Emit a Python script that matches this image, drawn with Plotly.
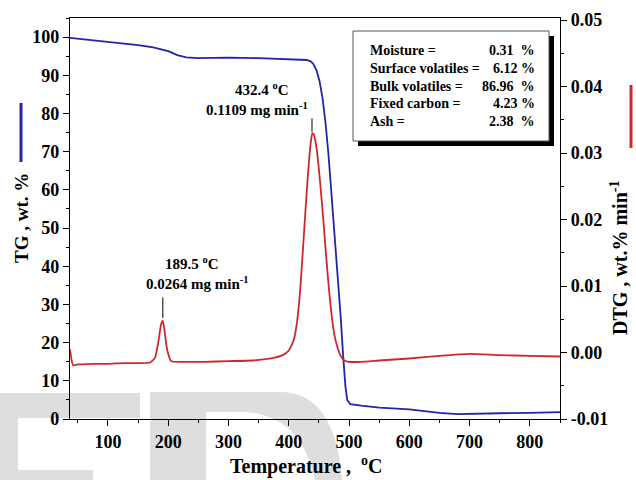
import plotly.graph_objects as go

# ---------------- data ----------------
temp_tg = [37, 50, 75, 100, 125, 150, 175, 200, 215, 230, 250, 300, 350, 400, 420, 430, 437,
           441, 446, 451, 456, 461, 466, 471, 476, 481, 486, 490, 494, 497, 502, 520, 550, 600,
           650, 680, 700, 750, 800, 850]
tg = [99.8, 99.6, 99.2, 98.8, 98.4, 97.9, 97.3, 96.3, 95.3, 94.7, 94.5, 94.6, 94.5, 94.3,
      94.2, 94.0, 93.6, 92.9, 91.3, 88.5, 84.0, 77.5, 69.0, 59.0, 49.0, 38.5, 27.0, 17.0,
      8.5, 5.0, 3.9, 3.5, 3.0, 2.5, 1.6, 1.3, 1.4, 1.5, 1.6, 1.8]

temp_dtg = [37, 42, 50, 75, 100, 125, 150, 170, 178, 184, 188, 191, 194, 198, 205, 230, 260,
            300, 340, 370, 390, 400, 408, 414, 419, 424, 428, 432, 436, 439, 442, 446, 450,
            455, 460, 465, 470, 475, 480, 486, 492, 500, 520, 550, 600, 650, 700, 750, 800, 850]
dtg = [0.0005, -0.0019, -0.0018, -0.0017, -0.0017, -0.0016, -0.0016, -0.0015, -0.0008,
       0.0018, 0.0042, 0.0048, 0.0032, 0.0005, -0.0013, -0.0014, -0.0014, -0.0013, -0.0012,
       -0.0009, -0.0004, 0.0003, 0.0018, 0.0048, 0.0095, 0.0162, 0.0218, 0.0270, 0.0312,
       0.0330, 0.0327, 0.0308, 0.0275, 0.0225, 0.0168, 0.0112, 0.0065, 0.0030, 0.0010,
       -0.0005, -0.0012, -0.0014, -0.0014, -0.0012, -0.0009, -0.0005, -0.0002, -0.0004,
       -0.0005, -0.0006]

x_ticks = [100, 200, 300, 400, 500, 600, 700, 800]
tg_ticks = [0, 10, 20, 30, 40, 50, 60, 70, 80, 90, 100]
dtg_ticks = [-0.01, 0.00, 0.01, 0.02, 0.03, 0.04, 0.05]
dtg_tick_labels = ["-0.01", "0.00", "0.01", "0.02", "0.03", "0.04", "0.05"]

box_labels = ["Moisture =", "Surface volatiles =", "Bulk volatiles =", "Fixed carbon =", "Ash ="]
box_values = ["0.31  %", "6.12 %", "86.96  %", "4.23 %", "2.38  %"]

peak_labels = [("432.4 <sup>o</sup>C", "0.1109 mg min<sup>-1</sup>"),
               ("189.5 <sup>o</sup>C", "0.0264 mg min<sup>-1</sup>")]

# ---------------- layout geometry (page pixels; body margin removed) ----------------
OFF = 0
W, H = 636, 480
L, T = 70, 18
PW, PH = 490, 401
R = W - L - PW
B = H - T - PH

def px(x):   # page pixel -> paper x
    return (x - OFF - L) / PW

def py(y):   # page pixel -> paper y
    return (T + PH - (y - OFF)) / PH

FONT = "Liberation Serif"
BLUE = "#2424A8"
RED = "#CC2A2A"

fig = go.Figure()
fig.add_trace(go.Scatter(x=temp_tg, y=tg, mode="lines", line=dict(color=BLUE, width=1.8),
                         name="TG", yaxis="y"))
fig.add_trace(go.Scatter(x=temp_dtg, y=dtg, mode="lines", line=dict(color=RED, width=1.8,
                         shape="spline", smoothing=0.5), name="DTG", yaxis="y2"))

shapes = []
# watermark (light gray letters behind the plot)
gray = "rgb(222,222,222)"
E_path = ("M {0},{1} L {2},{1} L {2},{3} L {4},{3} L {4},{5} L {6},{5} L {6},{7} L {0},{7} Z"
          .format(px(0), py(393), px(140), py(418), px(18), py(470), px(93), py(480)))
shapes.append(dict(type="path", path=E_path, xref="paper", yref="paper",
                   fillcolor=gray, line=dict(width=0), layer="below"))
D_path = ("M {a},{t} L {b},{t} Q {c},{t} {d},{bot} L {e},{bot} Q {f},{m} {g},{m2} L {h},{m2} "
          "L {h},{bot} L {a},{bot} Z").format(
    a=px(150), t=py(392), b=px(280), c=px(335), d=px(342), bot=py(480),
    e=px(315), f=px(300), m=py(412), g=px(240), m2=py(412), h=px(206))
shapes.append(dict(type="path", path=D_path, xref="paper", yref="paper",
                   fillcolor=gray, line=dict(width=0), layer="below"))

# info box with shadow
shapes.append(dict(type="rect", xref="paper", yref="paper", x0=px(358), x1=px(554),
                   y0=py(146), y1=py(36), fillcolor="black", line=dict(width=0)))
shapes.append(dict(type="rect", xref="paper", yref="paper", x0=px(353), x1=px(549),
                   y0=py(141), y1=py(31), fillcolor="white", line=dict(color="#555", width=1)))

# peak marker lines
shapes.append(dict(type="line", xref="x", yref="y2", x0=438.5, x1=438.5, y0=0.0332, y1=0.0352,
                   line=dict(color="black", width=1)))
shapes.append(dict(type="line", xref="x", yref="y2", x0=191, x1=191, y0=0.0052, y1=0.0083,
                   line=dict(color="black", width=1)))

# legend-like coloured line segments next to the axis titles
shapes.append(dict(type="line", xref="paper", yref="paper", x0=px(21), x1=px(21),
                   y0=py(103), y1=py(162), line=dict(color=BLUE, width=3)))
shapes.append(dict(type="line", xref="paper", yref="paper", x0=px(631), x1=px(631),
                   y0=py(85), y1=py(148), line=dict(color=RED, width=3)))

ann = []

def add_text(text, x, y, font, xanchor="center", angle=0):
    ann.append(dict(text=text, xref="paper", yref="paper", x=px(x), y=py(y),
                    xanchor=xanchor, yanchor="middle", textangle=angle,
                    showarrow=False, font=font))

bf = dict(family=FONT, size=14, color="black", weight="bold")
line_y = [50, 68, 86, 104, 122]
for lab, val, yy in zip(box_labels, box_values, line_y):
    add_text(lab, 368, yy, bf, xanchor="left")
    add_text(val, 537, yy, bf, xanchor="right")

pf = dict(family=FONT, size=15, color="black", weight="bold")
add_text(peak_labels[0][0], 262, 89, pf)
add_text(peak_labels[0][1], 257, 109, pf)
add_text(peak_labels[1][0], 192, 263, pf)
add_text(peak_labels[1][1], 197, 283, pf)

tf = dict(family=FONT, size=19, color="black", weight="bold")
add_text("TG , wt. %", 21, 218, tf, angle=-90)
add_text("DTG , wt.% min<sup>-1</sup>", 619, 258, dict(tf, size=20), angle=-90)
add_text("Temperature ,  <sup>o</sup>C", 306, 466, dict(tf, size=20))

tickf = dict(family=FONT, size=18, color="black", weight="bold")
axis_common = dict(ticks="outside", ticklen=6, tickwidth=1.2, tickcolor="black",
                   showline=True, linecolor="black", linewidth=1.2, showgrid=False,
                   zeroline=False, tickfont=tickf)
fig.update_layout(
    width=W, height=H,
    margin=dict(l=L, r=R, t=T, b=B, autoexpand=False),
    paper_bgcolor="white", plot_bgcolor="rgba(0,0,0,0)",
    showlegend=False,
    xaxis=dict(range=[37, 850], tickvals=x_ticks, mirror=True,
               minor=dict(dtick=50, tick0=0, ticks="outside", ticklen=3, tickcolor="black"),
               **axis_common),
    yaxis=dict(range=[0, 105], tickvals=tg_ticks,
               minor=dict(dtick=5, tick0=0, ticks="outside", ticklen=3, tickcolor="black"),
               **axis_common),
    yaxis2=dict(range=[-0.01, 0.0503], overlaying="y", side="right", tickvals=dtg_ticks,
                ticktext=dtg_tick_labels,
                minor=dict(dtick=0.005, tick0=0, ticks="outside", ticklen=3,
                           tickcolor="black"),
                **axis_common),
    shapes=shapes,
    annotations=ann,
)

fig.write_html("out.html",
               config={"displayModeBar": False},
               post_script="document.body.style.margin='0px';"
                           "document.body.style.overflow='hidden';")
